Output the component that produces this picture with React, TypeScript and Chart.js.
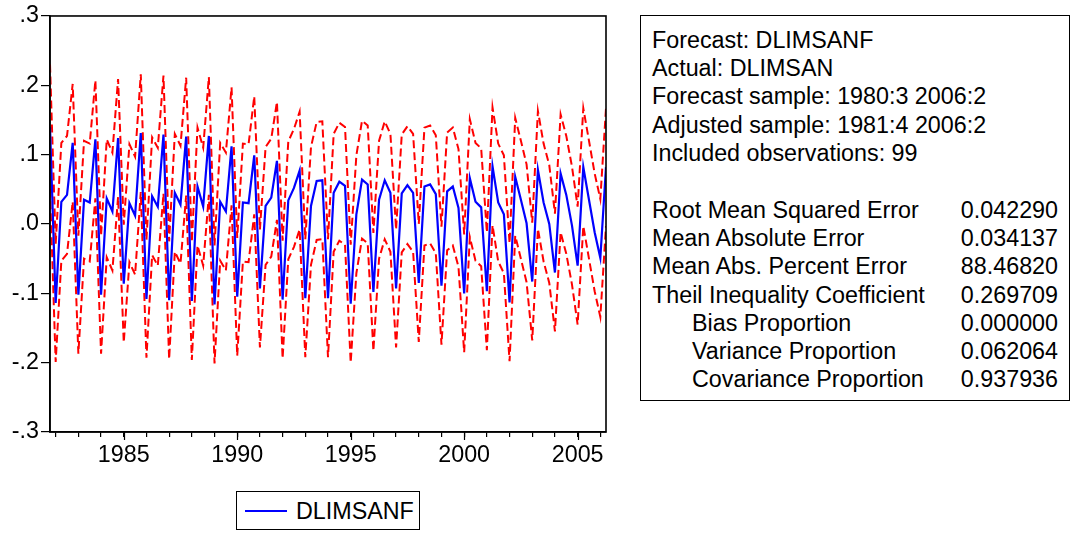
import React, { useEffect, useRef } from "react";
import { Chart, registerables } from "chart.js";

Chart.register(...registerables);

// ---- Data ----
const forecast = [
  0.140, -0.114, 0.032, 0.042, 0.117, -0.102, 0.035, 0.031, 0.122, -0.102,
  0.037, 0.018, 0.124, -0.086, 0.030, 0.012, 0.131, -0.108, 0.040, 0.025,
  0.129, -0.110, 0.045, 0.028, 0.126, -0.111, 0.054, 0.025, 0.127, -0.116,
  0.032, 0.018, 0.112, -0.105, 0.031, 0.030, 0.099, -0.093, 0.026, 0.038,
  0.091, -0.109, 0.034, 0.052, 0.077, -0.107, 0.026, 0.062, 0.063, -0.107,
  0.045, 0.061, 0.055, -0.115, 0.014, 0.064, 0.057, -0.098, 0.035, 0.063,
  0.045, -0.093, 0.044, 0.056, 0.045, -0.085, 0.054, 0.057, 0.043, -0.089,
  0.047, 0.054, 0.023, -0.100, 0.066, 0.032, 0.024, -0.097, 0.083, 0.031,
  0.014, -0.113, 0.068, 0.035, 0.001, -0.083, 0.078, 0.031, 0.000, -0.070,
  0.073, 0.042, -0.002, -0.060, 0.082, 0.035, -0.012, -0.049, 0.082,
];

const upperBand = [
  0.230, -0.029, 0.117, 0.127, 0.202, -0.017, 0.120, 0.116, 0.207, -0.017,
  0.122, 0.103, 0.209, -0.001, 0.115, 0.097, 0.216, -0.023, 0.125, 0.110,
  0.214, -0.025, 0.130, 0.113, 0.211, -0.026, 0.139, 0.110, 0.212, -0.031,
  0.117, 0.103, 0.197, -0.020, 0.116, 0.115, 0.184, -0.008, 0.111, 0.123,
  0.176, -0.024, 0.119, 0.137, 0.162, -0.022, 0.111, 0.147, 0.148, -0.022,
  0.130, 0.146, 0.140, -0.030, 0.099, 0.149, 0.142, -0.013, 0.120, 0.148,
  0.130, -0.008, 0.129, 0.141, 0.130, 0.000, 0.139, 0.142, 0.128, -0.004,
  0.132, 0.139, 0.108, -0.015, 0.151, 0.117, 0.109, -0.012, 0.168, 0.116,
  0.099, -0.028, 0.153, 0.120, 0.086, 0.002, 0.163, 0.116, 0.085, 0.015,
  0.158, 0.127, 0.083, 0.025, 0.167, 0.120, 0.073, 0.036, 0.167,
];

const lowerBand = [
  0.050, -0.199, -0.053, -0.043, 0.032, -0.187, -0.050, -0.054, 0.037, -0.187,
  -0.048, -0.067, 0.039, -0.171, -0.055, -0.073, 0.046, -0.193, -0.045, -0.060,
  0.044, -0.195, -0.040, -0.057, 0.041, -0.196, -0.031, -0.060, 0.042, -0.201,
  -0.053, -0.067, 0.027, -0.190, -0.054, -0.055, 0.014, -0.178, -0.059, -0.047,
  0.006, -0.194, -0.051, -0.033, -0.008, -0.192, -0.059, -0.023, -0.022, -0.192,
  -0.040, -0.024, -0.030, -0.200, -0.071, -0.021, -0.028, -0.183, -0.050, -0.022,
  -0.040, -0.178, -0.041, -0.029, -0.040, -0.170, -0.031, -0.028, -0.042, -0.174,
  -0.038, -0.031, -0.062, -0.185, -0.019, -0.053, -0.061, -0.182, -0.002, -0.054,
  -0.071, -0.198, -0.017, -0.050, -0.084, -0.168, -0.007, -0.054, -0.085, -0.155,
  -0.012, -0.043, -0.087, -0.145, -0.003, -0.050, -0.097, -0.134, -0.003,
];

// Quarterly categories 1981:4 .. 2006:2
const firstYear = 1981;
const firstQuarter = 4;
const quarterLabels = forecast.map((_, i) => {
  const q = firstQuarter - 1 + i;
  return `${firstYear + Math.floor(q / 4)}:${(q % 4) + 1}`;
});

const labeledYears = [1985, 1990, 1995, 2000, 2005];
const yTickValues = [-0.3, -0.2, -0.1, 0.0, 0.1, 0.2, 0.3];
const yTickLabels = ["-.3", "-.2", "-.1", ".0", ".1", ".2", ".3"];

const headerLines = [
  "Forecast: DLIMSANF",
  "Actual: DLIMSAN",
  "Forecast sample: 1980:3 2006:2",
  "Adjusted sample: 1981:4 2006:2",
  "Included observations: 99",
];
const statLabels = [
  "Root Mean Squared Error",
  "Mean Absolute Error",
  "Mean Abs. Percent Error",
  "Theil Inequality Coefficient",
  "Bias Proportion",
  "Variance Proportion",
  "Covariance Proportion",
];
const statValues = ["0.042290", "0.034137", "88.46820", "0.269709", "0.000000", "0.062064", "0.937936"];
const statIndented = [false, false, false, false, true, true, true];

const legendLabel = "DLIMSANF";

const FONT = "'Liberation Sans', Arial, Helvetica, sans-serif";
const FS = 23.3;

export default function App() {
  const canvasRef = useRef<HTMLCanvasElement | null>(null);

  useEffect(() => {
    const canvas = canvasRef.current;
    if (!canvas) return;

    const yearStartIdx: number[] = [];
    const labelByIdx: Record<number, string> = {};
    quarterLabels.forEach((lab, i) => {
      const [y, q] = lab.split(":").map(Number);
      if (q === 1) {
        yearStartIdx.push(i);
        if (labeledYears.includes(y)) labelByIdx[i] = String(y);
      }
    });
    const majorIdx = Object.keys(labelByIdx).map(Number);

    const framePlugin = {
      id: "frame",
      afterDraw(chart: any) {
        const { ctx, chartArea } = chart;
        const { left, top, right, bottom } = chartArea;
        ctx.save();
        ctx.strokeStyle = "#000";
        ctx.lineWidth = 1.6;
        ctx.strokeRect(left, top, right - left, bottom - top);
        ctx.lineWidth = 1.2;
        const xs = chart.scales.x;
        majorIdx.forEach((i) => {
          const px = Math.round(xs.getPixelForValue(i)) + 0.5;
          ctx.beginPath();
          ctx.moveTo(px, bottom);
          ctx.lineTo(px, bottom + 8);
          ctx.stroke();
        });
        ctx.restore();
      },
    };

    const pts = (arr: number[]) => arr.map((v, i) => ({ x: i, y: v }));

    const chart = new Chart(canvas, {
      type: "line",
      data: {
        datasets: [
          {
            label: legendLabel,
            data: pts(forecast),
            borderColor: "#0000ff",
            borderWidth: 2.2,
            pointRadius: 0,
            tension: 0,
            order: 0,
          },
          {
            label: "upper",
            data: pts(upperBand),
            borderColor: "#ff0000",
            borderWidth: 2,
            borderDash: [8, 4],
            pointRadius: 0,
            tension: 0,
            order: 1,
          },
          {
            label: "lower",
            data: pts(lowerBand),
            borderColor: "#ff0000",
            borderWidth: 2,
            borderDash: [8, 4],
            pointRadius: 0,
            tension: 0,
            order: 1,
          },
        ],
      },
      options: {
        responsive: false,
        animation: false,
        devicePixelRatio: 1,
        layout: { padding: { top: 15, right: 14, left: 0, bottom: 0 } },
        plugins: {
          legend: { display: false },
          tooltip: { enabled: false },
        },
        scales: {
          x: {
            type: "linear",
            min: 0,
            max: forecast.length - 1,
            afterBuildTicks: (scale: any) => {
              scale.ticks = yearStartIdx.map((v) => ({ value: v }));
            },
            afterFit: (scale: any) => {
              scale.height = 43;
            },
            ticks: {
              autoSkip: false,
              maxRotation: 0,
              minRotation: 0,
              padding: 5,
              color: "#000",
              font: { family: FONT, size: FS },
              callback: (v: any) => labelByIdx[Number(v)] ?? "",
            },
            grid: {
              drawOnChartArea: false,
              drawTicks: true,
              tickLength: 5,
              color: "#000",
              lineWidth: 1.2,
            },
            border: { display: true, color: "#000", width: 1.6 },
          },
          y: {
            type: "linear",
            min: -0.3,
            max: 0.3,
            afterBuildTicks: (scale: any) => {
              scale.ticks = yTickValues.map((v) => ({ value: v }));
            },
            afterFit: (scale: any) => {
              scale.width = 50;
            },
            ticks: {
              autoSkip: false,
              padding: 2,
              color: "#000",
              font: { family: FONT, size: FS },
              callback: (v: any) => {
                const k = yTickValues.findIndex((t) => Math.abs(t - Number(v)) < 1e-9);
                return k >= 0 ? yTickLabels[k] : "";
              },
            },
            grid: {
              drawOnChartArea: false,
              drawTicks: true,
              tickLength: 9,
              color: "#000",
              lineWidth: 1.2,
            },
            border: { display: true, color: "#000", width: 1.6 },
          },
        },
      },
      plugins: [framePlugin],
    });

    return () => chart.destroy();
  }, []);

  const lineH = 28.3;
  const textStyle: React.CSSProperties = {
    position: "absolute",
    fontFamily: FONT,
    fontSize: FS,
    lineHeight: `${lineH}px`,
    color: "#000",
    whiteSpace: "nowrap",
  };

  return (
    <div
      style={{
        position: "fixed",
        left: 0,
        top: 0,
        width: 1074,
        height: 534,
        background: "#fff",
        overflow: "hidden",
      }}
    >
      <canvas
        ref={canvasRef}
        width={620}
        height={475}
        style={{ position: "absolute", left: 0, top: 0, width: 620, height: 475 }}
      />
      {/* statistics box */}
      <div
        style={{
          position: "absolute",
          left: 640,
          top: 15,
          width: 430,
          height: 386,
          border: "1.5px solid #000",
          boxSizing: "border-box",
        }}
      />
      {headerLines.map((t, k) => (
        <div key={"h" + k} style={{ ...textStyle, left: 652, top: 40 + lineH * k - lineH / 2 }}>
          {t}
        </div>
      ))}
      {statLabels.map((t, k) => (
        <div
          key={"l" + k}
          style={{ ...textStyle, left: statIndented[k] ? 692 : 652, top: 40 + lineH * (k + 6) - lineH / 2 }}
        >
          {t}
        </div>
      ))}
      {statValues.map((t, k) => (
        <div
          key={"v" + k}
          style={{ ...textStyle, right: 1074 - 1058, top: 40 + lineH * (k + 6) - lineH / 2, textAlign: "right" }}
        >
          {t}
        </div>
      ))}
      {/* legend */}
      <div
        style={{
          position: "absolute",
          left: 236,
          top: 491,
          width: 184,
          height: 39,
          border: "1.5px solid #000",
          boxSizing: "border-box",
        }}
      />
      <div
        style={{ position: "absolute", left: 245, top: 510, width: 42, height: 2, background: "#0000ff" }}
      />
      <div style={{ ...textStyle, left: 296, top: 511 - lineH / 2 }}>{legendLabel}</div>
    </div>
  );
}
